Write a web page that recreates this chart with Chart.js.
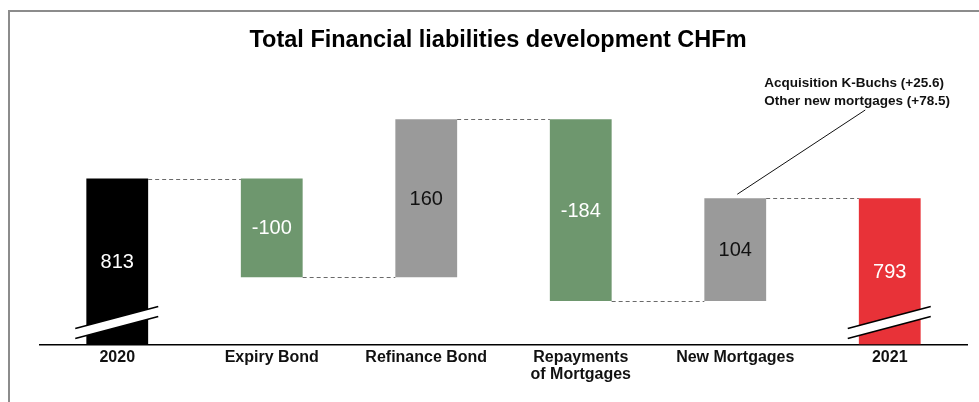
<!DOCTYPE html>
<html>
<head>
<meta charset="utf-8">
<script src="https://cdn.jsdelivr.net/npm/chart.js@4"></script>
<style>
  html, body { margin: 0; padding: 0; background: #fff; }
  #wrap { position: relative; width: 979px; height: 402px; }
  #frame { position: absolute; left: 8px; top: 10px; right: 0; bottom: 0; border-left: 2px solid #8c8c8c; border-top: 2px solid #8c8c8c; }
  canvas { position: absolute; left: 0; top: 0; }
</style>
</head>
<body>
<div id="wrap">
  <div id="frame"></div>
  <canvas id="chart" width="979" height="402"></canvas>
</div>
<script>
const categories = [['2020'], ['Expiry Bond'], ['Refinance Bond'], ['Repayments', 'of Mortgages'], ['New Mortgages'], ['2021']];
const changes = [813, -100, 160, -184, 104, 793];
const isTotal = [true, false, false, false, false, true];
const barColors = ['#000000', '#6e976e', '#9a9a9a', '#6e976e', '#9a9a9a', '#e83238'];
const labelColors = ['#ffffff', '#ffffff', '#111111', '#ffffff', '#111111', '#ffffff'];
const annotationLines = ['Acquisition K-Buchs (+25.6)', 'Other new mortgages (+78.5)'];
const titleText = 'Total Financial liabilities development CHFm';
const yMin = 645, yMax = 933;

const FONT = '"Liberation Sans", Arial, sans-serif';

// floating bars: totals start at the axis, changes start at the running level
let running = 0;
const ranges = changes.map((v, i) => {
  if (isTotal[i]) { running = v; return [yMin, v]; }
  const start = running;
  running += v;
  return [start, running];
});
const levels = ranges.map(r => r[1]);

const waterfallExtras = {
  id: 'waterfallExtras',
  afterDatasetsDraw(chart) {
    const ctx = chart.ctx;
    const meta = chart.getDatasetMeta(0);
    const y = chart.scales.y;
    const bars = meta.data;

    // dashed connectors
    ctx.save();
    ctx.strokeStyle = '#6a6a6a';
    ctx.lineWidth = 1;
    ctx.setLineDash([4, 3]);
    for (let i = 0; i < bars.length - 1; i++) {
      const py = Math.round(y.getPixelForValue(levels[i])) + 0.5;
      ctx.beginPath();
      ctx.moveTo(bars[i].x + bars[i].width / 2, py);
      ctx.lineTo(bars[i + 1].x - bars[i + 1].width / 2, py);
      ctx.stroke();
    }
    ctx.restore();

    // value labels
    ctx.save();
    ctx.font = '20px ' + FONT;
    ctx.textAlign = 'center';
    ctx.textBaseline = 'middle';
    bars.forEach((b, i) => {
      ctx.fillStyle = labelColors[i];
      ctx.fillText(String(changes[i]), b.x, (b.y + b.base) / 2 + 1);
    });
    ctx.restore();

    // axis break marks on the total bars
    const bottom = chart.chartArea.bottom;
    bars.forEach((b, i) => {
      if (!isTotal[i]) return;
      const x1 = b.x - 42, x2 = b.x + 41;
      const yl = bottom - 16, yr = bottom - 38, gap = 10;
      ctx.save();
      ctx.fillStyle = '#ffffff';
      ctx.beginPath();
      ctx.moveTo(x1, yl); ctx.lineTo(x2, yr); ctx.lineTo(x2, yr + gap); ctx.lineTo(x1, yl + gap);
      ctx.closePath();
      ctx.fill();
      ctx.strokeStyle = '#000000';
      ctx.lineWidth = 1.6;
      ctx.beginPath();
      ctx.moveTo(x1, yl); ctx.lineTo(x2, yr);
      ctx.moveTo(x1, yl + gap); ctx.lineTo(x2, yr + gap);
      ctx.stroke();
      ctx.restore();
    });

    // annotation for New Mortgages
    const nm = bars[4];
    ctx.save();
    ctx.fillStyle = '#111111';
    ctx.font = '600 13.5px ' + FONT;
    ctx.textAlign = 'left';
    ctx.textBaseline = 'middle';
    annotationLines.forEach((t, k) => ctx.fillText(t, nm.x + 29, 83 + k * 18));
    ctx.strokeStyle = '#111111';
    ctx.lineWidth = 1;
    ctx.beginPath();
    ctx.moveTo(nm.x + 130, 110);
    ctx.lineTo(nm.x + 2, nm.y - 4);
    ctx.stroke();
    ctx.restore();

    // title
    ctx.save();
    ctx.fillStyle = '#000000';
    ctx.font = 'bold 23.5px ' + FONT;
    ctx.textAlign = 'center';
    ctx.textBaseline = 'middle';
    ctx.fillText(titleText, 498, 41);
    ctx.restore();
  }
};

new Chart(document.getElementById('chart'), {
  type: 'bar',
  data: {
    labels: categories,
    datasets: [{
      data: ranges,
      backgroundColor: barColors,
      borderWidth: 0,
      borderSkipped: false,
      categoryPercentage: 1,
      barPercentage: 0.4
    }]
  },
  options: {
    responsive: false,
    animation: false,
    layout: { padding: { left: 40, right: 12, top: 60, bottom: 14 } },
    plugins: { legend: { display: false }, title: { display: false }, tooltip: { enabled: false } },
    scales: {
      x: {
        grid: { display: false, drawTicks: false },
        border: { display: true, color: '#000000', width: 1.5 },
        ticks: { color: '#111111', font: { family: FONT, size: 16, weight: 'bold', lineHeight: 1.05 }, padding: 5, maxRotation: 0, autoSkip: false }
      },
      y: { display: false, min: yMin, max: yMax }
    }
  },
  plugins: [waterfallExtras]
});
</script>
</body>
</html>
